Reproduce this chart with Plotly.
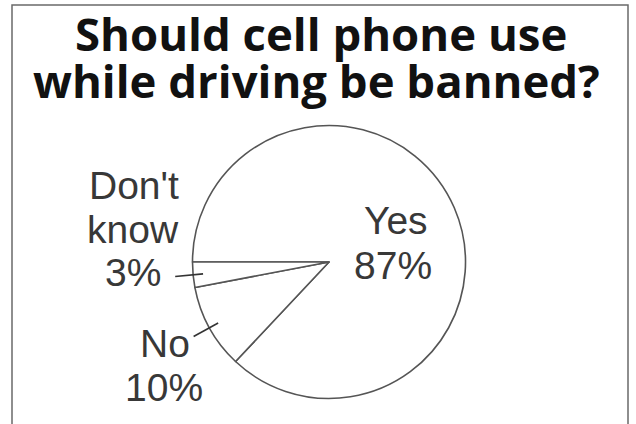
import math
import plotly.graph_objects as go

# ---- data (listed in clockwise drawing order, starting at 9 o'clock) ----
categories = ["Yes", "No", "Don't know"]
values = [87, 10, 3]
label_lines = {
    "Yes": ["Yes", "87%"],
    "No": ["No", "10%"],
    "Don't know": ["Don't", "know", "3%"],
}
title_lines = ["Should cell phone use", "while driving be banned?"]

W, H = 636, 424
CX, CY, R = 329, 262, 136.5   # pie centre / radius in px


def px(x):
    return x / W


def py(y):
    return 1 - y / H


fig = go.Figure(go.Pie(
    labels=categories,
    values=values,
    sort=False,
    direction="clockwise",
    rotation=270,
    textinfo="none",
    hoverinfo="label+percent",
    marker=dict(colors=["white"] * len(values),
                line=dict(color="#555555", width=1.6)),
    domain=dict(x=[px(CX - R), px(CX + R)], y=[py(CY + R), py(CY - R)]),
    showlegend=False,
))

shapes = []
annotations = []

# outer frame
shapes.append(dict(type="rect", xref="paper", yref="paper",
                   x0=px(12), x1=px(628), y0=py(445), y1=py(5),
                   line=dict(color="#6a6a6a", width=1.5), fillcolor="rgba(0,0,0,0)"))

# title (two lines, tight spacing)
for txt, (xc, yc) in zip(title_lines, [(320.5, 33), (316, 80)]):
    annotations.append(dict(text=f"<b>{txt}</b>", xref="paper", yref="paper",
                            x=px(xc), y=py(yc), xanchor="center", yanchor="middle",
                            showarrow=False,
                            font=dict(family="Open Sans", size=45.5, color="#111111")))

# leader lines computed from the slice mid-angles
total = sum(values)
cum = 0
for cat, v in zip(categories, values):
    mid_frac = (cum + v / 2) / total          # clockwise from 9 o'clock
    cum += v
    if cat == "Yes":
        continue
    below = (1 - mid_frac) * 2 * math.pi      # angle below the west direction
    r0, r1 = R - 10, R + 18
    x0 = CX - r0 * math.cos(below)
    y0 = CY + r0 * math.sin(below)
    x1 = CX - r1 * math.cos(below)
    y1 = CY + r1 * math.sin(below)
    shapes.append(dict(type="line", xref="paper", yref="paper",
                       x0=px(x0), y0=py(y0), x1=px(x1), y1=py(y1),
                       line=dict(color="#333333", width=1.6)))

label_pos = {
    "Don't know": [(134, 186), (133, 229.5), (132.5, 272)],
    "No": [(164.5, 343.5), (164, 387)],
    "Yes": [(395.5, 220), (393, 265)],
}
for cat in categories:
    for txt, (xc, yc) in zip(label_lines[cat], label_pos[cat]):
        annotations.append(dict(text=txt, xref="paper", yref="paper",
                                x=px(xc), y=py(yc), xanchor="center", yanchor="middle",
                                showarrow=False,
                                font=dict(family="Liberation Sans, Arial", size=39,
                                          color="#383838")))

fig.update_layout(
    width=W, height=H,
    margin=dict(l=0, r=0, t=0, b=0),
    paper_bgcolor="white",
    plot_bgcolor="white",
    shapes=shapes,
    annotations=annotations,
)

# remove the browser's default 8px body margin so the figure fills the window
fig.write_html("out.html",
               config={"displayModeBar": False},
               post_script="document.body.style.margin='0';document.body.style.overflow='hidden';")
